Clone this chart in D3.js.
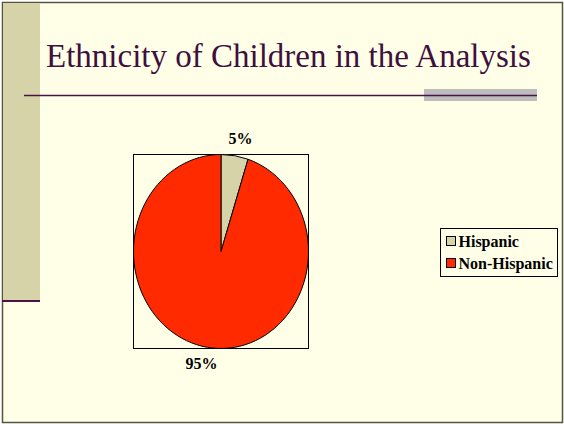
<!DOCTYPE html>
<html>
<head>
<meta charset="utf-8">
<script src="https://cdn.jsdelivr.net/npm/d3@7"></script>
<style>
  body { margin: 0; background: #fff; }
  svg { display: block; }
</style>
</head>
<body>
<svg id="chart" width="564" height="424"></svg>
<script>
const categories = ["Hispanic", "Non-Hispanic"];
const values = [5, 95];
const colors = ["#d6d3a8", "#ff2a00"];
const title = "Ethnicity of Children in the Analysis";

const svg = d3.select("#chart");
const serif = "Liberation Serif, Times New Roman, serif";

// slide background + frame
svg.append("rect")
  .attr("x", 2.5).attr("y", 2.5)
  .attr("width", 560).attr("height", 420)
  .attr("fill", "#ffffe8")
  .attr("stroke", "#55553f").attr("stroke-width", 1.5);

// left side bar
svg.append("rect")
  .attr("x", 3).attr("y", 3)
  .attr("width", 37).attr("height", 297)
  .attr("fill", "#d6d3a8");
svg.append("line")
  .attr("x1", 2).attr("x2", 40)
  .attr("y1", 301).attr("y2", 301)
  .attr("stroke", "#4a1245").attr("stroke-width", 2);

// title
svg.append("text")
  .attr("x", 46).attr("y", 67)
  .attr("font-family", serif)
  .attr("font-size", 33)
  .attr("fill", "#3f0f3f")
  .text(title);

// rule under the title
svg.append("rect")
  .attr("x", 424).attr("y", 89)
  .attr("width", 113).attr("height", 12)
  .attr("fill", "#bdbdbd");
svg.append("line")
  .attr("x1", 24).attr("x2", 537)
  .attr("y1", 95.5).attr("y2", 95.5)
  .attr("stroke", "#4a1245").attr("stroke-width", 1.5);

// plot area
const box = {x: 133.5, y: 154.5, w: 175, h: 194};
svg.append("rect")
  .attr("x", box.x).attr("y", box.y)
  .attr("width", box.w).attr("height", box.h)
  .attr("fill", "none")
  .attr("stroke", "#000").attr("stroke-width", 1);

const rx = box.w / 2, ry = box.h / 2;
const cx = box.x + rx, cy = box.y + ry;

const pie = d3.pie().sort(null).value(d => d);
const arcs = pie(values);
const arc = d3.arc().innerRadius(0).outerRadius(rx);

const g = svg.append("g")
  .attr("transform", `translate(${cx},${cy}) scale(1,${ry / rx})`);

g.selectAll("path")
  .data(arcs)
  .enter().append("path")
    .attr("d", arc)
    .attr("fill", (d, i) => colors[i])
    .attr("stroke", "#000")
    .attr("stroke-width", 1)
    .attr("vector-effect", "non-scaling-stroke");

// percent labels outside the pie
const total = d3.sum(values);
const mid = d => (d.startAngle + d.endAngle) / 2;
svg.selectAll("text.pct")
  .data(arcs)
  .enter().append("text")
    .attr("class", "pct")
    .attr("x", d => cx + Math.sin(mid(d)) * 125)
    .attr("y", d => cy - Math.cos(mid(d)) * 114 + 5)
    .attr("text-anchor", "middle")
    .attr("font-family", serif)
    .attr("font-weight", "bold")
    .attr("font-size", 16)
    .attr("fill", "#000")
    .text(d => Math.round(d.data / total * 100) + "%");

// legend
const legend = svg.append("g").attr("transform", "translate(440.5,228.5)");
legend.append("rect")
  .attr("width", 117).attr("height", 48)
  .attr("fill", "none")
  .attr("stroke", "#000").attr("stroke-width", 1);

const item = legend.selectAll("g.item")
  .data(categories)
  .enter().append("g")
    .attr("class", "item")
    .attr("transform", (d, i) => `translate(6,${8 + i * 22})`);
item.append("rect")
  .attr("width", 9).attr("height", 9)
  .attr("fill", (d, i) => colors[i])
  .attr("stroke", "#000").attr("stroke-width", 1);
item.append("text")
  .attr("x", 12).attr("y", 10)
  .attr("font-family", serif)
  .attr("font-weight", "bold")
  .attr("font-size", 16)
  .attr("fill", "#000")
  .text(d => d);
</script>
</body>
</html>
